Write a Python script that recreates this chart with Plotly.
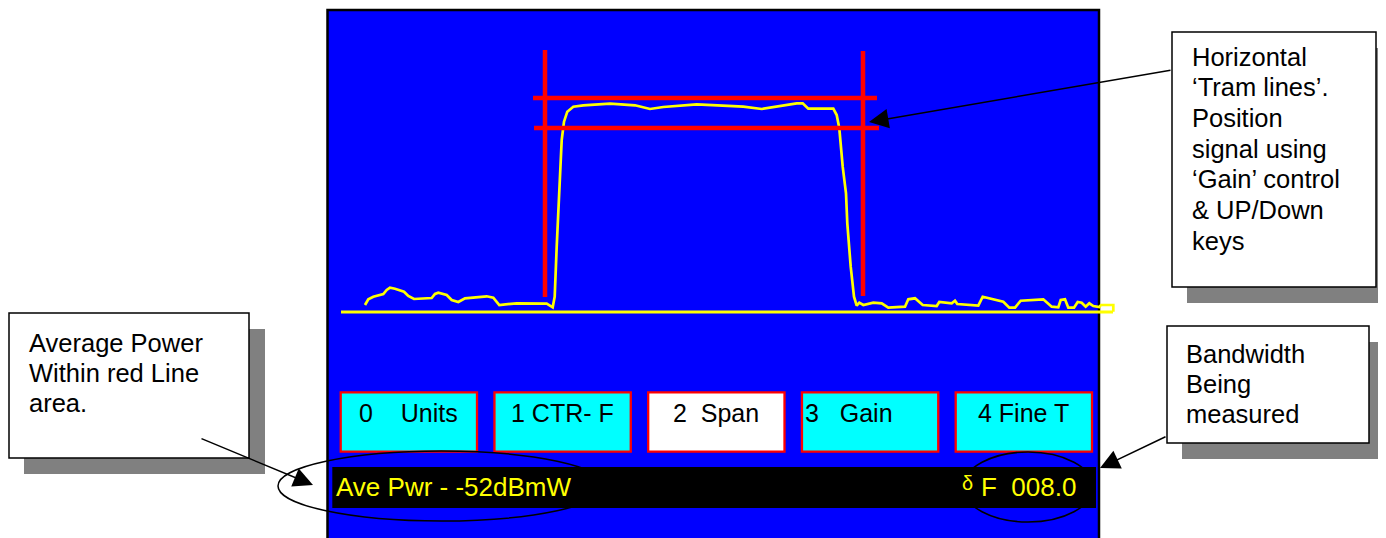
import plotly.graph_objects as go

# ---------------- data (screen pixel units) ----------------
trace_x = [365.0, 368.3, 373.3, 383.3, 386.7, 390.0, 395.0, 404.0, 408.3, 414.0, 431.7, 435.0,
           438.3, 446.7, 451.7, 458.3, 465.0, 486.7, 493.3, 499.3, 516.7, 546.7, 552.7, 554.7,
           556.7, 558.3, 559.3, 560.0, 561.7, 564.0, 567.3, 573.3, 583.3, 610.0, 635.0, 650.0,
           663.3, 696.7, 720.0, 743.3, 761.7, 776.7, 796.7, 802.7, 808.3, 833.3, 836.7, 839.3,
           842.7, 846.0, 847.3, 850.7, 854.0, 856.7, 859.3, 863.3, 873.3, 881.7, 888.3, 905.0,
           908.3, 915.0, 920.0, 922.7, 936.7, 939.3, 951.7, 955.0, 957.3, 978.3, 982.7, 1003.3,
           1009.3, 1015.0, 1020.7, 1043.3, 1051.7, 1058.3, 1060.7, 1065.0, 1068.3, 1074.0, 1077.7,
           1081.7, 1085.7, 1089.3, 1093.3, 1099.3, 1101.0, 1113.3, 1113.3]
trace_y = [305.0, 299.3, 296.7, 294.0, 290.0, 287.7, 288.7, 291.7, 296.0, 299.0, 298.0, 294.0,
           292.7, 295.0, 300.0, 302.0, 298.3, 296.3, 297.7, 305.0, 303.3, 303.7, 307.3, 296.7,
           246.7, 213.3, 186.7, 165.0, 140.0, 121.7, 111.7, 106.7, 105.3, 103.7, 105.3, 109.0,
           107.0, 104.3, 105.3, 106.7, 109.0, 106.7, 103.3, 103.3, 108.7, 108.7, 115.0, 128.3,
           166.7, 193.3, 223.3, 266.7, 296.7, 305.7, 302.7, 305.0, 302.7, 303.3, 307.7, 306.7,
           299.3, 298.3, 303.3, 305.0, 306.0, 302.0, 303.3, 300.7, 304.0, 305.7, 296.7, 301.7,
           307.7, 307.7, 300.7, 299.3, 306.7, 307.3, 300.0, 299.3, 307.7, 307.7, 302.0,
           302.7, 306.7, 303.3, 306.0, 307.0, 305.0, 305.0, 311.7]
floor_x = [341, 1113]
floor_y = [312, 312]

button_labels = ["0\u00a0\u00a0\u00a0\u00a0Units", "1 CTR- F", "2\u00a0\u00a0Span",
                 "3\u00a0\u00a0\u00a0Gain", "4 Fine T"]
button_selected = [False, False, True, False, False]
power_label = "Ave Pwr - -52dBmW"
delta_symbol = "\u03b4"
bandwidth_label = "F\u00a0\u00a0008.0"
callout_power = ["Average Power", "Within red Line", "area."]
callout_tram = ["Horizontal", "\u2018Tram lines\u2019.", "Position", "signal using",
                "\u2018Gain\u2019 control", "& UP/Down", "keys"]
callout_bw = ["Bandwidth", "Being", "measured"]

# ---------------- figure ----------------
FONT = "Liberation Sans, Arial, sans-serif"
BLUE = "#0000FF"
CYAN = "#00FFFF"
YELLOW = "#FFFF00"
RED = "#FF0000"
GREY = "#808080"
PAGE_OFFSET = 8  # default body margin of the html page

fig = go.Figure()
fig.add_trace(go.Scatter(x=trace_x, y=trace_y, mode="lines",
                         line=dict(color=YELLOW, width=2.7), hoverinfo="skip", showlegend=False))
fig.add_trace(go.Scatter(x=floor_x, y=floor_y, mode="lines",
                         line=dict(color=YELLOW, width=3.2), hoverinfo="skip", showlegend=False))

shapes = []
# screen
shapes.append(dict(type="rect", xref="x", yref="y", x0=327.5, x1=1099, y0=10, y1=570,
                   fillcolor=BLUE, line=dict(color="black", width=2.5), layer="below"))
# red tram lines and markers
for (x0, y0, x1, y1) in [(545, 50, 545, 297), (863, 51, 863, 296),
                         (533, 98, 877, 98), (534, 128, 879, 128)]:
    shapes.append(dict(type="line", xref="x", yref="y", x0=x0, y0=y0, x1=x1, y1=y1,
                       line=dict(color=RED, width=4.5), layer="above"))
# soft-key buttons
bx0, bstep, bw = 340.7, 153.75, 136.3
for i, sel in enumerate(button_selected):
    shapes.append(dict(type="rect", xref="x", yref="y", x0=bx0 + i * bstep, x1=bx0 + i * bstep + bw,
                       y0=392.3, y1=451.7, fillcolor="#FFFFFF" if sel else CYAN,
                       line=dict(color=RED, width=2.3), layer="above"))
# black status bar
shapes.append(dict(type="rect", xref="x", yref="y", x0=332.3, x1=1096, y0=467, y1=508,
                   fillcolor="black", line=dict(width=0), layer="above"))
# ellipses
shapes.append(dict(type="circle", xref="x", yref="y", x0=278, x1=605, y0=451, y1=521,
                   line=dict(color="black", width=1.5), layer="above"))
shapes.append(dict(type="circle", xref="x", yref="y", x0=963, x1=1093, y0=452, y1=522,
                   line=dict(color="black", width=1.5), layer="above"))
# callout boxes with shadows
for (x0, y0, x1, y1) in [(9, 313, 249, 458), (1172, 32, 1376, 287), (1167, 326, 1369, 443)]:
    shapes.append(dict(type="rect", xref="x", yref="y", x0=x0 + 15, x1=min(x1 + 16, 1390),
                       y0=y0 + 16, y1=y1 + 16, fillcolor=GREY, line=dict(width=0), layer="above"))
    shapes.append(dict(type="rect", xref="x", yref="y", x0=x0, x1=x1, y0=y0, y1=y1,
                       fillcolor="white", line=dict(color="black", width=1.5), layer="above"))

ann = []


def text(x, y, s, size=25.5, color="black", xanchor="left"):
    ann.append(dict(x=x, y=y, xref="x", yref="y", text=s, showarrow=False, xanchor=xanchor,
                    yanchor="middle", borderpad=0, borderwidth=0,
                    font=dict(family=FONT, size=size, color=color)))


# button labels
for i, lab in enumerate(button_labels):
    cx = bx0 + i * bstep + bw / 2
    if i == 3:
        text(bx0 + i * bstep + 3.5, 413, lab, size=25)
    else:
        text(cx, 413, lab, size=25, xanchor="center")

# status bar
text(336, 486.5, power_label, size=26, color=YELLOW)
text(962, 483, delta_symbol, size=20, color=YELLOW)
text(981, 487, bandwidth_label, size=26, color=YELLOW)

# callouts
for k, line in enumerate(callout_power):
    text(29, 343.3 + k * 29.6, line)
for k, line in enumerate(callout_tram):
    text(1192, 56.5 + k * 30.7, line)
for k, line in enumerate(callout_bw):
    text(1185.5, 353.7 + k * 29.9, line)

# arrows
for (tx, ty, sx, sy) in [(869, 122, 1172, 70), (313, 485, 200, 438), (1100, 468, 1167, 436)]:
    ann.append(dict(x=tx, y=ty, ax=sx, ay=sy, xref="x", yref="y", axref="x", ayref="y",
                    text="", showarrow=True, arrowhead=2, arrowsize=2.6, arrowwidth=1.5,
                    arrowcolor="black", standoff=0, startstandoff=0))

W, H = 1386, 538
fig.update_layout(
    width=W - PAGE_OFFSET, height=H - PAGE_OFFSET,
    margin=dict(l=0, r=0, t=0, b=0),
    paper_bgcolor="white", plot_bgcolor="white",
    xaxis=dict(range=[PAGE_OFFSET, W], visible=False, fixedrange=True),
    yaxis=dict(range=[H, PAGE_OFFSET], visible=False, fixedrange=True),
    shapes=shapes, annotations=ann, showlegend=False,
)

fig.write_html("out.html")
